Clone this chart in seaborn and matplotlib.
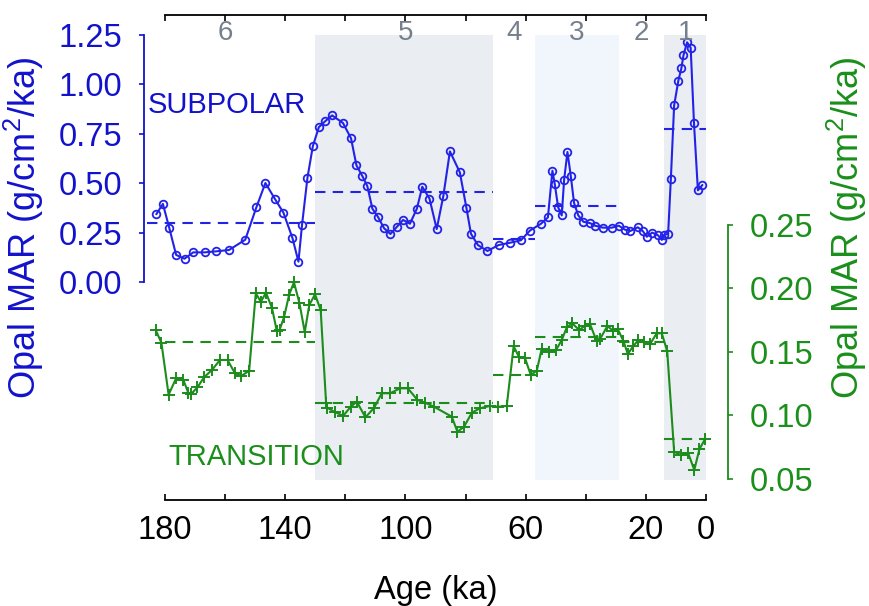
import matplotlib
matplotlib.use("Agg")
import matplotlib.pyplot as plt
import matplotlib.transforms as mtransforms
import seaborn as sns
import pandas as pd

# ---------------- data ----------------
sub_age = [182.9, 180.7, 178.6, 176.3, 173.5, 170.6, 166.8, 163.1, 158.7, 153.3, 149.6, 146.6, 143.5,
           140.6, 137.6, 135.6, 134.4, 132.6, 130.8, 128.8, 126.6, 124.4, 120.8, 118.1, 116.3, 114.3,
           112.7, 111.0, 109.2, 107.1, 105.0, 102.8, 100.8, 98.5, 96.2, 94.4, 92.0, 89.6, 87.4, 85.2,
           81.9, 79.7, 78.2, 75.9, 72.7, 69.0, 65.1, 61.6, 58.6, 54.9, 52.6, 51.1, 50.3, 49.2, 48.0,
           47.2, 46.1, 45.0, 43.9, 42.5, 40.8, 38.6, 36.9, 34.3, 31.3, 29.0, 27.0, 25.2, 22.7, 21.0,
           19.7, 17.9, 16.1, 14.7, 13.9, 12.6, 11.7, 10.6, 9.2, 8.2, 7.5, 6.3, 5.1, 4.0, 2.7, 1.2]
sub_val = [0.343, 0.395, 0.275, 0.137, 0.118, 0.150, 0.150, 0.155, 0.162, 0.214, 0.378, 0.501, 0.422,
           0.351, 0.223, 0.103, 0.290, 0.528, 0.688, 0.784, 0.815, 0.843, 0.805, 0.727, 0.590, 0.535,
           0.486, 0.371, 0.331, 0.272, 0.243, 0.280, 0.314, 0.295, 0.371, 0.482, 0.422, 0.268, 0.435,
           0.661, 0.555, 0.374, 0.244, 0.187, 0.157, 0.187, 0.199, 0.211, 0.260, 0.295, 0.327, 0.563,
           0.494, 0.378, 0.337, 0.518, 0.658, 0.538, 0.400, 0.337, 0.305, 0.298, 0.285, 0.275, 0.275,
           0.285, 0.265, 0.258, 0.277, 0.257, 0.229, 0.250, 0.238, 0.213, 0.240, 0.243, 0.520, 0.894,
           1.019, 1.081, 1.147, 1.213, 1.186, 0.805, 0.464, 0.491]

tr_age = [183.1, 181.2, 178.8, 176.3, 173.9, 172.2, 171.4, 169.2, 167.0, 164.4, 161.7, 159.2, 156.7,
          154.6, 152.0, 149.8, 148.1, 146.4, 144.4, 142.8, 141.9, 140.4, 138.7, 137.1, 135.3, 133.5,
          132.0, 130.1, 128.2, 126.4, 126.0, 123.4, 120.7, 118.2, 116.2, 113.3, 110.4, 107.9, 105.1,
          101.8, 99.2, 96.0, 93.5, 90.5, 84.6, 82.7, 80.5, 77.9, 75.2, 71.9, 69.1, 66.3, 64.0, 62.2,
          60.2, 58.3, 56.3, 54.7, 52.1, 49.9, 48.0, 46.3, 44.5, 42.2, 40.3, 38.6, 36.4, 35.3, 32.8,
          31.0, 29.4, 27.5, 26.0, 24.2, 22.5, 20.6, 18.6, 16.4, 14.7, 12.9, 10.6, 8.4, 5.9, 3.9, 2.2, 0.3]
tr_val = [0.1673, 0.1573, 0.1164, 0.1293, 0.1280, 0.1175, 0.1167, 0.1222, 0.1301, 0.1358, 0.1437,
          0.1437, 0.1332, 0.1311, 0.1353, 0.1962, 0.1896, 0.1967, 0.1846, 0.1665, 0.1673, 0.1773,
          0.1951, 0.2049, 0.1888, 0.1657, 0.1870, 0.1954, 0.1831, 0.1096, 0.1061, 0.1026, 0.0998,
          0.1069, 0.1109, 0.0986, 0.1061, 0.1175, 0.1175, 0.1214, 0.1214, 0.1122, 0.1101, 0.1069,
          0.0991, 0.0872, 0.0912, 0.1022, 0.1057, 0.1075, 0.1069, 0.1075, 0.1545, 0.1460, 0.1450,
          0.1319, 0.1353, 0.1521, 0.1502, 0.1516, 0.1594, 0.1695, 0.1726, 0.1673, 0.1705, 0.1720,
          0.1587, 0.1600, 0.1705, 0.1668, 0.1683, 0.1587, 0.1484, 0.1547, 0.1594, 0.1579, 0.1563,
          0.1647, 0.1647, 0.1505, 0.0715, 0.0689, 0.0702, 0.0571, 0.0734, 0.0815]

# stage means (start age, end age, mean)
sub_mean_start = [186, 130, 71, 57, 14]
sub_mean_end = [130, 71, 57, 29, 0]
sub_mean_val = [0.297, 0.457, 0.216, 0.386, 0.774]

tr_mean_start = [180, 130, 71, 57, 29, 14]
tr_mean_end = [130, 71, 57, 29, 14, 0]
tr_mean_val = [0.1581, 0.1101, 0.1319, 0.1616, 0.1581, 0.0815]

# marine isotope stages
mis_labels = ["6", "5", "4", "3", "2", "1"]
mis_label_pos = [160, 100, 64, 43, 21.5, 6.8]
shade_start = [130, 57, 14]
shade_end = [71, 29, 0]
shade_colors = ["#eaedf2", "#f1f6fd", "#eaedf2"]

x_ticks = [180, 160, 140, 120, 100, 80, 60, 40, 20, 0]
x_ticklabels = ["180", "", "140", "", "100", "", "60", "", "20", "0"]
left_ticks = [0.0, 0.25, 0.5, 0.75, 1.0, 1.25]
right_ticks = [0.05, 0.10, 0.15, 0.20, 0.25]

# ---------------- style ----------------
sns.set_theme(style="ticks")
plt.rcParams["font.family"] = ["Liberation Sans", "DejaVu Sans"]
plt.rcParams["mathtext.fontset"] = "custom"
plt.rcParams["mathtext.rm"] = "Liberation Sans"
plt.rcParams["mathtext.it"] = "Liberation Sans:italic"

BLUE_L = "#2323e8"
BLUE_T = "#1212cc"
GREEN_L = "#1c8c1c"
GREEN_T = "#1a8f1a"
GREY_T = "#76808c"
FS = 21
TICK_FS = 23.5
YLAB_FS = 26
XLAB_FS = 23.5

W, H = 869, 606
fig = plt.figure(figsize=(W / 100, H / 100), dpi=100)
px_per_ka = 541 / 180.0
x_left_px = 706 - 187 * px_per_ka
ax = fig.add_axes([x_left_px / W, 1 - 500 / H, (706 - x_left_px) / W, 485 / H])
ax.set_facecolor("white")
ax.set_xlim(187, 0)
ax.set_ylim(-1.1032, 1.3512)

ax2 = ax.twinx()
ax2.set_ylim(0.03346, 0.41535)
ax2.patch.set_visible(False)

# shading
ymin_f = (500 - 480) / 485
ymax_f = (500 - 35) / 485
for s, e, c in zip(shade_start, shade_end, shade_colors):
    ax.axvspan(e, s, ymin=ymin_f, ymax=ymax_f, color=c, lw=0, zorder=0)

# subpolar series
df_sub = pd.DataFrame({"age": sub_age, "mar": sub_val})
sns.lineplot(data=df_sub, x="age", y="mar", ax=ax, estimator=None, sort=False,
             color=BLUE_L, lw=1.5, marker="o", ms=5.5, mfc="none", mec=BLUE_L, mew=1.3,
             zorder=3, clip_on=False)
ax.hlines(sub_mean_val, sub_mean_start, sub_mean_end, colors=BLUE_L, lw=1.5,
          linestyles=(0, (5, 3.5)), zorder=2, clip_on=False)

# transition series
df_tr = pd.DataFrame({"age": tr_age, "mar": tr_val})
sns.lineplot(data=df_tr, x="age", y="mar", ax=ax2, estimator=None, sort=False,
             color=GREEN_L, lw=1.5, marker="+", ms=9, mew=1.4, mec=GREEN_L,
             zorder=3, clip_on=False)
ax2.hlines(tr_mean_val, tr_mean_start, tr_mean_end, colors=GREEN_L, lw=1.5,
           linestyles=(0, (5, 3.5)), zorder=2, clip_on=False)

# axes, spines
for a in (ax, ax2):
    a.set_xlabel("")
    a.set_ylabel("")

ax.spines["left"].set_bounds(0, 1.25)
ax.spines["left"].set_color(BLUE_T)
ax.spines["left"].set_linewidth(1.3)
ax.spines["right"].set_visible(False)
ax.spines["top"].set_visible(True)
ax.spines["top"].set_bounds(0, 180)
ax.spines["bottom"].set_bounds(0, 180)
for sp in ("top", "bottom"):
    ax.spines[sp].set_color("black")
    ax.spines[sp].set_linewidth(1.3)

ax2.spines["left"].set_visible(False)
ax2.spines["top"].set_visible(False)
ax2.spines["bottom"].set_visible(False)
ax2.spines["right"].set_position(("outward", 22 * 0.72))
ax2.spines["right"].set_bounds(0.05, 0.25)
ax2.spines["right"].set_color(GREEN_L)
ax2.spines["right"].set_linewidth(1.3)

ax.set_xticks(x_ticks)
ax.set_xticklabels(x_ticklabels)
ax.tick_params(axis="x", which="both", direction="in", length=4.5, width=1.2,
               top=True, bottom=True, labeltop=False, labelsize=TICK_FS, pad=11, colors="black")
ax.set_yticks(left_ticks)
ax.set_yticklabels([f"{v:.2f}" for v in left_ticks])
ax.tick_params(axis="y", direction="out", length=3.4, width=1.2, labelsize=TICK_FS, pad=12,
               colors=BLUE_T, labelcolor=BLUE_T)
ax2.set_yticks(right_ticks)
ax2.set_yticklabels([f"{v:.2f}" for v in right_ticks])
ax2.tick_params(axis="y", direction="out", length=3.4, width=1.2, labelsize=TICK_FS, pad=12,
                colors=GREEN_L, labelcolor=GREEN_T)

# axis labels
ax.set_xlabel("Age (ka)", fontsize=XLAB_FS, color="black")
ax.xaxis.set_label_coords(436 / W, 1 - 590 / H, transform=fig.transFigure)
ax.set_ylabel("Opal MAR (g/cm$^2$/ka)", fontsize=YLAB_FS, color=BLUE_T)
ax.yaxis.set_label_coords(24 / W, 1 - 228 / H, transform=fig.transFigure)
ax2.set_ylabel("Opal MAR (g/cm$^2$/ka)", fontsize=YLAB_FS, color=GREEN_T, rotation=90)
ax2.yaxis.set_label_coords(847 / W, 1 - 228 / H, transform=fig.transFigure)
ax.xaxis.label.set_va("center")
ax.yaxis.label.set_va("center")
ax2.yaxis.label.set_va("center")
ax2.yaxis.label.set_ha("center")

# stage labels along top
trans = mtransforms.blended_transform_factory(ax.transData, ax.transAxes)
for lab, pos in zip(mis_labels, mis_label_pos):
    ax.text(pos, (500 - 33) / 485, lab, transform=trans, ha="center", va="center",
            fontsize=20, color=GREY_T)

# series labels
fig.text(148 / W, 1 - 105 / H, "SUBPOLAR", fontsize=FS, color=BLUE_T, ha="left", va="center")
fig.text(168 / W, 1 - 457 / H, "TRANSITION", fontsize=FS, color=GREEN_T, ha="left", va="center")

fig.savefig("out.png", dpi=100)
